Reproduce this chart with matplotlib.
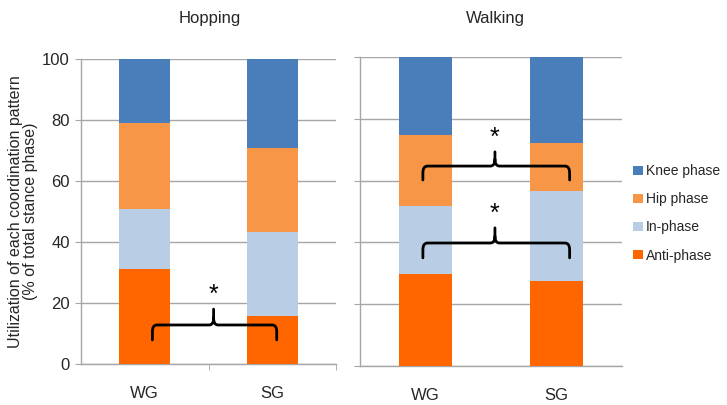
import matplotlib
matplotlib.use("Agg")
import matplotlib.pyplot as plt
from matplotlib.path import Path
from matplotlib.patches import PathPatch, Patch

plt.rcParams['font.family'] = ['Liberation Sans', 'DejaVu Sans']

groups = ["WG", "SG"]
phases = ["Anti-phase", "In-phase", "Hip phase", "Knee phase"]
colors = ["#FF6600", "#B9CDE5", "#F79646", "#4A7EBB"]

# Percent of stance phase spent in each coordination pattern (WG, SG)
hopping_anti = [31.0, 15.7]
hopping_in = [19.7, 27.6]
hopping_hip = [28.4, 27.4]
hopping_knee = [20.9, 29.3]

walking_anti = [29.7, 27.6]
walking_in = [22.1, 29.0]
walking_hip = [23.0, 15.7]
walking_knee = [25.2, 27.7]

hopping = [hopping_anti, hopping_in, hopping_hip, hopping_knee]
walking = [walking_anti, walking_in, walking_hip, walking_knee]

GRID = "#A6A6A6"
TXT = "#262626"


def brace(ax, x0, x1, y, depth, rise, xm=None):
    if xm is None:
        xm = (x0 + x1) / 2
    rx, ry = 0.035, 2.2
    verts = [
        (x0, y - depth), (x0, y - ry),
        (x0, y), (x0 + rx, y),
        (xm - rx, y),
        (xm, y), (xm, y + ry),
        (xm, y + rise),
        (xm, y + ry),
        (xm, y), (xm + rx, y),
        (x1 - rx, y),
        (x1, y), (x1, y - ry),
        (x1, y - depth),
    ]
    codes = [Path.MOVETO, Path.LINETO,
             Path.CURVE3, Path.CURVE3,
             Path.LINETO,
             Path.CURVE3, Path.CURVE3,
             Path.LINETO,
             Path.MOVETO,
             Path.CURVE3, Path.CURVE3,
             Path.LINETO,
             Path.CURVE3, Path.CURVE3,
             Path.LINETO]
    ax.add_patch(PathPatch(Path(verts, codes), fill=False, edgecolor="black",
                           lw=2.0, capstyle="round", joinstyle="round", zorder=5))
    ax.text(xm, y + rise + 0.8, "*", ha="center", va="bottom",
            fontsize=18, color="black", zorder=5)


def panel(ax, data, show_labels):
    x = list(range(len(groups)))
    bottom = [0.0] * len(groups)
    for vals, c, name in zip(data, colors, phases):
        ax.bar(x, vals, width=0.4, bottom=bottom, color=c, label=name, zorder=3)
        bottom = [b + v for b, v in zip(bottom, vals)]
    ax.set_xlim(-0.5, 1.5)
    ax.set_ylim(0, 100)
    ax.set_yticks([0, 20, 40, 60, 80, 100])
    ax.yaxis.grid(True, color=GRID, lw=1.0, zorder=0)
    ax.set_axisbelow(True)
    for s in ("top", "right"):
        ax.spines[s].set_visible(False)
    for s in ("left", "bottom"):
        ax.spines[s].set_color(GRID)
        ax.spines[s].set_linewidth(1.0)
    ax.set_xticks(x)
    ax.set_xticklabels(groups, fontsize=12, color=TXT)
    ax.tick_params(axis="x", length=0, pad=16)
    ax.tick_params(axis="y", length=4, color=GRID, labelsize=12,
                   labelcolor=TXT, pad=4, labelleft=show_labels)


fig = plt.figure(figsize=(7.27, 4.05), dpi=100)
ax1 = fig.add_axes([0.1114, 0.1012, 0.3508, 0.7531])
ax2 = fig.add_axes([0.4952, 0.0963, 0.3604, 0.7630])

panel(ax1, hopping, True)
panel(ax2, walking, False)

fig.text(210 / 727, 1 - 18 / 405, "Hopping", ha="center", va="center",
         fontsize=12, color=TXT)
fig.text(495 / 727, 1 - 18 / 405, "Walking", ha="center", va="center",
         fontsize=12, color=TXT)

ax1.set_xticks([0.5, 1.5], minor=True)
ax1.tick_params(axis="x", which="minor", length=4, color=GRID, direction="out")

ax1.set_ylabel("Utilization of each coordination pattern\n(% of total stance phase)",
               fontsize=11.5, color=TXT, labelpad=3, linespacing=1.0)

brace(ax1, 0.06, 1.035, 12.8, 4.9, 5.2, xm=0.54)
brace(ax2, -0.02, 1.10, 64.7, 4.5, 4.6, xm=0.53)
brace(ax2, -0.02, 1.10, 39.8, 4.8, 4.9, xm=0.53)

handles = [Patch(facecolor=c, label=n) for c, n in zip(colors, phases)][::-1]
fig.legend(handles=handles, loc="upper left", bbox_to_anchor=(633 / 727, 0.595),
           frameon=False, fontsize=10, handlelength=0.7, handleheight=0.6,
           handletextpad=0.2, labelspacing=1.02, borderpad=0, borderaxespad=0,
           labelcolor=TXT)

fig.savefig("out.png", dpi=100)
